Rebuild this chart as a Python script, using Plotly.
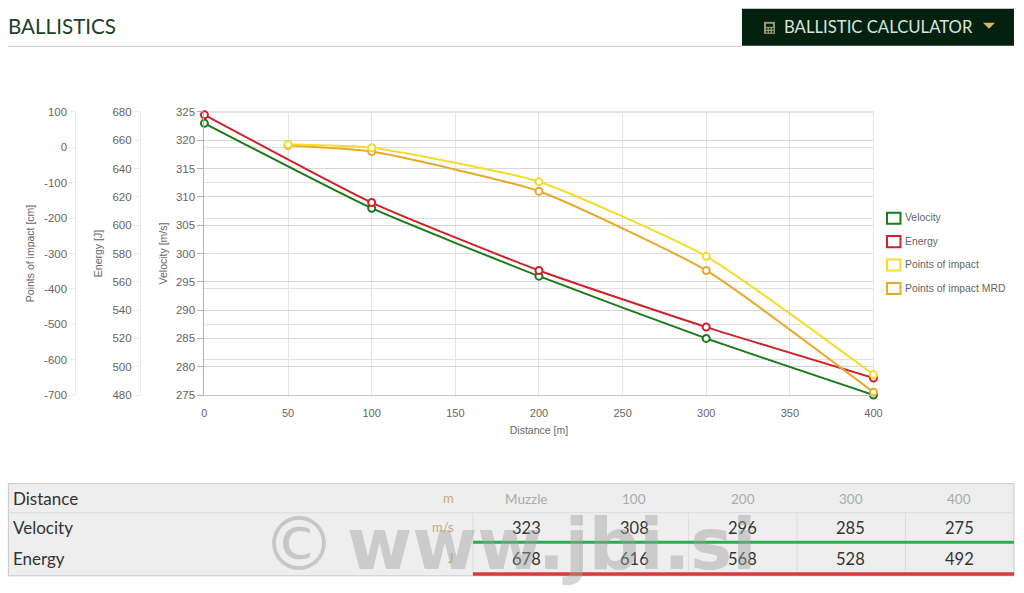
import plotly.graph_objects as go

# ---------- data ----------
distance_velocity = [0, 100, 200, 300, 400]
velocity = [323, 308, 296, 285, 275]
energy = [678, 616, 568, 528, 492]
distance_impact = [50, 100, 200, 300, 400]
impact = [8, -1, -97, -308, -642]
impact_mrd = [5, -12, -124, -348, -692]

impact_ticks = [100, 0, -100, -200, -300, -400, -500, -600, -700]
impact_tick_labels = ["100", "0", "-100", "-200", "-300", "-400", "-500", "-600", "-700"]

legend_names = ["Velocity", "Energy", "Points of impact", "Points of impact MRD"]
legend_colors = ["#1a7a1a", "#d0202a", "#f5dc2a", "#e8a92a"]

table_rows = ["Distance", "Velocity", "Energy"]
table_units = ["m", "m/s", "J"]
table_head = ["Muzzle", "100", "200", "300", "400"]
table_velocity = [323, 308, 296, 285, 275]
table_energy = [678, 616, 568, 528, 492]

W, H = 1024, 593
# calibration of the rendered page onto picture pixels
def px(x): return ((x - 3.1) / 0.9882) / W
def py(y): return 1 - ((y - 6.2) / 0.978) / H

TICK = "#666666"
TITLE = "#666666"
FONT = "Liberation Sans"
UI = "Lato"

fig = go.Figure()

def add(x, y, name, color, axis):
    fig.add_trace(go.Scatter(
        x=x, y=y, name=name, yaxis=axis, mode="lines+markers", cliponaxis=False,
        line=dict(color=color, width=2, shape="spline", smoothing=0.5),
        marker=dict(symbol="circle", size=7, color="white", line=dict(color=color, width=2)),
        showlegend=False,
    ))

add(distance_impact, impact_mrd, legend_names[3], legend_colors[3], "y3")
add(distance_impact, impact, legend_names[2], legend_colors[2], "y3")
add(distance_velocity, energy, legend_names[1], legend_colors[1], "y2")
add(distance_velocity, velocity, legend_names[0], legend_colors[0], "y")

x0, x1, ytop, ybot = 204.5, 873.5, 112, 394.5
dom = [py(ybot), py(ytop)]

def yax(rng, dtick, title, standoff, grid_color, line_color, **kw):
    d = dict(range=rng, dtick=dtick, domain=dom, showgrid=True, gridcolor=grid_color, gridwidth=1,
             showline=True, linecolor=line_color, linewidth=1,
             ticks="outside", ticklen=6, tickcolor=line_color, tickwidth=1,
             tickfont=dict(family=FONT, size=11.5, color=TICK),
             title=dict(text=title, font=dict(family=FONT, size=10.5, color=TITLE), standoff=standoff),
             zeroline=False)
    d.update(kw)
    return d

fig.update_layout(
    width=W, height=H, autosize=False, margin=dict(l=0, r=0, t=0, b=0),
    paper_bgcolor="white", plot_bgcolor="white", showlegend=False,
    font=dict(family=FONT),
    xaxis=dict(domain=[px(x0), px(x1)], range=[0, 400], dtick=50, gridcolor="#e4e4e4",
               showline=True, linecolor="#c4c4c4", linewidth=1, zeroline=False,
               ticks="outside", ticklen=8, tickcolor="rgba(0,0,0,0)",
               tickfont=dict(family=FONT, size=11, color=TICK),
               title=dict(text="Distance [m]", font=dict(family=FONT, size=10.5, color=TITLE), standoff=8),
               anchor="y"),
    yaxis=yax([275, 325], 5, "Velocity [m/s]", 6, "#d4d4d4", "#b4b4b4", anchor="x"),
    yaxis2=yax([480, 680], 20, "Energy [J]", 6, "#d8d8d8", "#ececec",
               overlaying="y", anchor="free", position=px(140), side="left"),
    yaxis3=yax([-700, 100], 100, "Points of impact [cm]", 6, "#e0e0e0", "#ececec",
               overlaying="y", anchor="free", position=px(75.5), side="left",
               tickmode="array", tickvals=impact_ticks, ticktext=impact_tick_labels),
)

shapes, notes = [], []
def rect(a, b, c, d, fill, line=None, lw=1, layer="below"):
    shapes.append(dict(type="rect", xref="paper", yref="paper", x0=px(a), x1=px(c), y0=py(b), y1=py(d),
                       fillcolor=fill, line=dict(color=line or fill, width=lw if line else 0), layer=layer))
def hline(a, c, y, color, w=1, layer="below"):
    shapes.append(dict(type="line", xref="paper", yref="paper", x0=px(a), x1=px(c), y0=py(y), y1=py(y),
                       line=dict(color=color, width=w), layer=layer))
def vline(x, a, b, color, w=1):
    shapes.append(dict(type="line", xref="paper", yref="paper", x0=px(x), x1=px(x), y0=py(a), y1=py(b),
                       line=dict(color=color, width=w), layer="below"))
def text(x, y, s, size, color, family=UI, anchor="left", **kw):
    notes.append(dict(xref="paper", yref="paper", x=px(x), y=py(y), text=s, showarrow=False,
                      xanchor=anchor, yanchor="middle", font=dict(family=family, size=size, color=color), **kw))

# frame of the plot area
hline(x0, x1, ytop, "#c8c8c8")
vline(x1, ytop, ybot, "#e4e4e4")

# header
text(6.5, 26.5, "BALLISTICS", 20.6, "#20402a")
hline(8, 742, 46.5, "#c8c8c8")
rect(742, 9, 1014, 46, "#04200f")
rect(764, 22, 775, 34, "#9a9a70")
rect(766, 24, 773, 27, "#04200f")
for yy in (29, 32):
    for xx in (766, 769, 772):
        rect(xx, yy - 0.8, xx + 1.6, yy + 0.8, "#04200f")
text(782, 27.5, "BALLISTIC CALCULATOR", 16.7, "#d6e6da")
shapes.append(dict(type="path", xref="paper", yref="paper",
                   path=f"M {px(983)} {py(23)} L {px(995)} {py(23)} L {px(989)} {py(29)} Z",
                   fillcolor="#d9b46e", line=dict(width=0)))

# legend
for i, (n, c) in enumerate(zip(legend_names, legend_colors)):
    yy = 218 + i * 23.4
    rect(887, yy - 5.5, 900.5, yy + 5.5, "white", c, 2)
    text(903.5, yy - 0.5, n, 10.4, "#666666", FONT)

# table
tx0, tx1, ty0, ty1 = 8.5, 1014, 483, 575
rect(tx0, ty0, tx1, ty1, "#eeeeee", "#c8c8c8", 1)
hline(tx0, tx1, 512, "#dcdcdc")
cols = [473, 580.5, 688.5, 797, 905.5, 1014]
centers = [526.5, 634.5, 743, 851, 959.5]
for c in cols[:-1]:
    vline(c, 512, 575, "#dcdcdc")
rows_y = [497.5, 527, 558]
for name, unit, yy in zip(table_rows, table_units, rows_y):
    text(11.5, yy, name, 17, "#333333")
    text(456, yy - 0.5, unit, 13, "#c9a877", anchor="right")
for cx, h, v, e in zip(centers, table_head, table_velocity, table_energy):
    text(cx, 498, h, 13.5, "#aaaaaa", anchor="center")
    text(cx, 527, str(v), 16.5, "#333333", anchor="center")
    text(cx, 558, str(e), 16.5, "#333333", anchor="center")
rect(473, 540, 1014, 543, "#2aae4e")
rect(473, 571.5, 1014, 575, "#d93a3a")

# watermark
text(299, 543, "©", 74, "rgba(160,160,160,0.5)", "DejaVu Sans", anchor="center")
text(551.5, 544, "www.jbi.si", 70.5, "rgba(160,160,160,0.45)", "DejaVu Sans", anchor="center")
notes[-1]["font"]["weight"] = "bold"

fig.update_layout(shapes=shapes, annotations=notes)
fig.write_html("out.html", config={"displayModeBar": False},
               post_script="document.body.style.margin='0';")
